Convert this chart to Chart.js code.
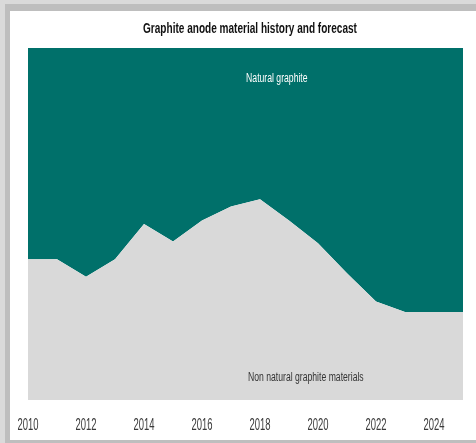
<!DOCTYPE html>
<html>
<head>
<meta charset="utf-8">
<script src="https://cdn.jsdelivr.net/npm/chart.js@4/dist/chart.umd.min.js"></script>
<style>
  html, body { margin: 0; padding: 0; }
  body { width: 476px; height: 443px; background: #dadada; position: relative; overflow: hidden; }
  .frame { position: absolute; left: 5px; top: 4px; right: 0; bottom: 0; background: #bebebe; }
  .card { position: absolute; left: 10px; top: 11px; width: 466px; height: 429px; background: #fff; }
  canvas { display: block; }
</style>
</head>
<body>
<div class="frame"></div>
<div class="card"><canvas id="myChart" width="466" height="429"></canvas></div>
<script>
// Sample data (share of anode material, %)
const years = ['2010', '2011', '2012', '2013', '2014', '2015', '2016', '2017',
               '2018', '2019', '2020', '2021', '2022', '2023', '2024', '2025'];
const nonNatural = [40, 40, 35, 40, 50, 45, 51, 55, 57, 51, 44.5, 36, 28, 25, 25, 25];
const natural = [60, 60, 65, 60, 50, 55, 49, 45, 43, 49, 55.5, 64, 72, 75, 75, 75];

const sans = "'Liberation Sans', Arial, sans-serif";

// draws condensed text (the original uses a narrow font)
function narrowText(ctx, text, x, y, font, color, sx) {
    ctx.save();
    ctx.font = font;
    ctx.fillStyle = color;
    ctx.textAlign = 'center';
    ctx.textBaseline = 'alphabetic';
    ctx.translate(x, y);
    ctx.scale(sx, 1);
    ctx.fillText(text, 0, 0);
    ctx.restore();
}

// title, x tick labels and area labels
const textLayer = {
    id: 'textLayer',
    afterDatasetsDraw(chart) {
        const ctx = chart.ctx;
        const x = chart.scales.x, y = chart.scales.y;
        const area = chart.chartArea;
        const step = x.getPixelForValue(1) - x.getPixelForValue(0);

        narrowText(ctx, 'Graphite anode material history and forecast',
            (area.left + area.right) / 2 + 4.5, 22, 'bold 15px ' + sans, '#111111', 0.67);

        years.forEach((yr, i) => {
            if (i % 2 === 0) {
                narrowText(ctx, yr, x.getPixelForValue(i), area.bottom + 30, '16px ' + sans, '#3a3a3a', 0.59);
            }
        });

        narrowText(ctx, 'Natural graphite', x.getPixelForValue(8) + step * 0.58,
            y.getPixelForValue(90.2), '12px ' + sans, '#ffffff', 0.72);
        narrowText(ctx, 'Non natural graphite materials', x.getPixelForValue(9) + step * 0.58,
            y.getPixelForValue(5.4), '12px ' + sans, '#333333', 0.72);
    }
};

const config = {
    type: 'line',
    data: {
        labels: years,
        datasets: [{
            label: 'Non natural graphite materials',
            data: nonNatural,
            backgroundColor: '#d9d9d9',
            borderWidth: 0,
            pointRadius: 0,
            fill: 'origin'
        }, {
            label: 'Natural graphite',
            data: natural,
            backgroundColor: '#00706a',
            borderWidth: 0,
            pointRadius: 0,
            fill: '-1'
        }]
    },
    options: {
        responsive: false,
        animation: false,
        layout: { padding: { left: 18, right: 13, top: 37, bottom: 40 } },
        plugins: {
            legend: { display: false },
            tooltip: { enabled: false },
            title: { display: false }
        },
        scales: {
            x: {
                display: false,
                offset: false,
                afterFit: function (scale) { scale.paddingLeft = 0; scale.paddingRight = 0; }
            },
            y: {
                display: false,
                stacked: true,
                min: 0,
                max: 100
            }
        }
    },
    plugins: [textLayer]
};

var myChart = new Chart(document.getElementById('myChart'), config);
</script>
</body>
</html>
